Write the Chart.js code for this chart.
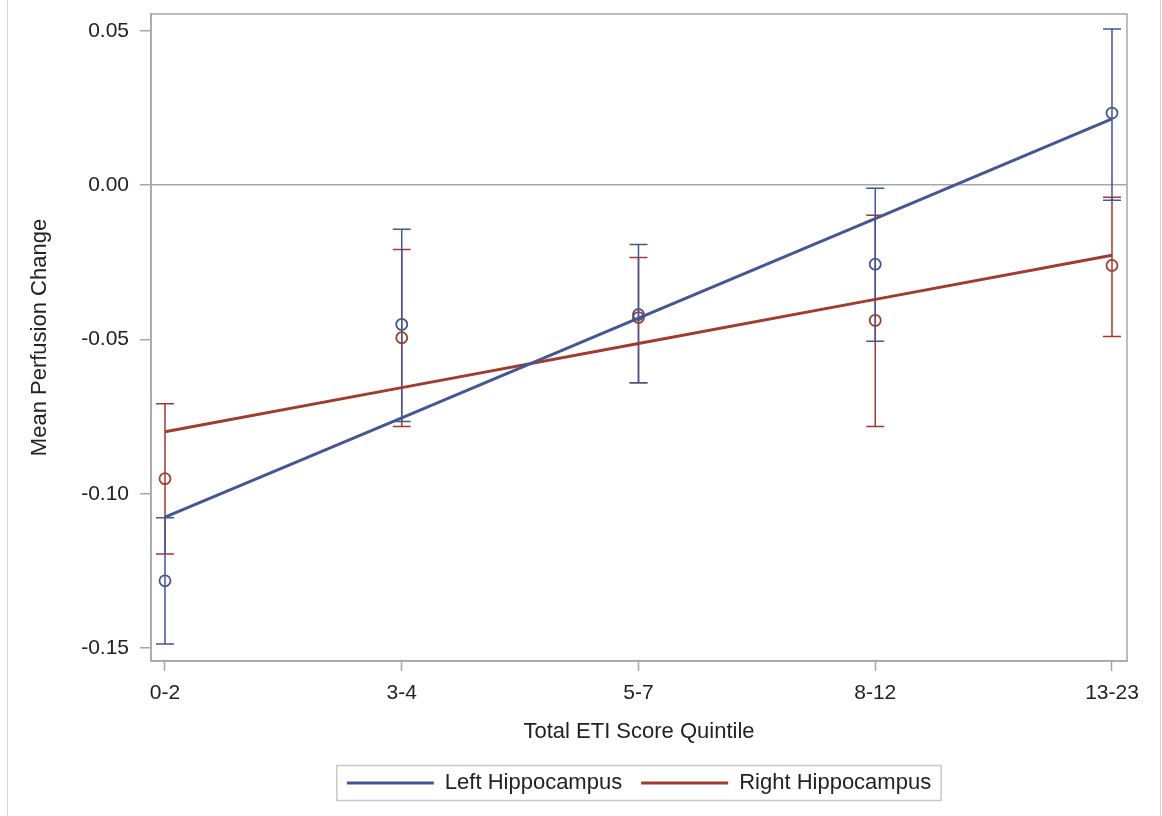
<!DOCTYPE html>
<html>
<head>
<meta charset="utf-8">
<script src="https://cdn.jsdelivr.net/npm/chart.js@4/dist/chart.umd.min.js"></script>
<style>
  html, body { margin: 0; padding: 0; background: #fff; }
  #wrap { width: 1162px; height: 816px; }
</style>
</head>
<body>
<div id="wrap"><canvas id="chart"></canvas></div>
<script>
// quintile groups and y ticks
const quintiles = ["0-2", "3-4", "5-7", "8-12", "13-23"];
const yTicks = [-0.15, -0.10, -0.05, 0.00, 0.05];

// Left hippocampus: means, CI and fitted line
const leftMean  = [-0.1282, -0.0451, -0.0419, -0.0256, 0.0234];
const leftLower = [-0.1487, -0.0766, -0.0640, -0.0506, -0.0049];
const leftUpper = [-0.1078, -0.0143, -0.0192, -0.0010, 0.0506];
const leftFit   = [-0.1076, -0.0754, -0.0431, -0.0108, 0.0215];

// Right hippocampus
const rightMean  = [-0.0951, -0.0494, -0.0429, -0.0438, -0.0260];
const rightLower = [-0.1195, -0.0782, -0.0640, -0.0782, -0.0490];
const rightUpper = [-0.0708, -0.0208, -0.0234, -0.0097, -0.0039];
const rightFit   = [-0.0799, -0.0656, -0.0513, -0.0370, -0.0227];

const BLUE = "#445694";
const RED = "#A23A2E";
const FRAME = "#a4a7ab";
const TEXT = "#222";

const toXY = arr => arr.map((v, i) => ({ x: i, y: v }));

// error bars with caps, drawn under the lines
const errorBars = {
    id: "errorBars",
    beforeDatasetsDraw(chart) {
        const { ctx, scales: { x, y } } = chart;
        const sets = [
            { lo: rightLower, hi: rightUpper, color: RED },
            { lo: leftLower, hi: leftUpper, color: BLUE }
        ];
        ctx.save();
        ctx.lineWidth = 1.5;
        sets.forEach(s => {
            ctx.strokeStyle = s.color;
            s.lo.forEach((lo, i) => {
                const px = x.getPixelForValue(i);
                const y1 = y.getPixelForValue(lo);
                const y2 = y.getPixelForValue(s.hi[i]);
                ctx.beginPath();
                ctx.moveTo(px, y1); ctx.lineTo(px, y2);
                ctx.moveTo(px - 9, y1); ctx.lineTo(px + 9, y1);
                ctx.moveTo(px - 9, y2); ctx.lineTo(px + 9, y2);
                ctx.stroke();
            });
        });
        ctx.restore();
    }
};

// legend centred under the plot area, not the whole canvas
const centreLegend = {
    id: "centreLegend",
    afterLayout(chart) {
        const lg = chart.legend, a = chart.chartArea;
        if (!lg) return;
        const shift = (a.left + a.right) / 2 - (lg.left + lg.right) / 2;
        lg.left += shift;
        lg.right += shift;
        (lg.legendHitBoxes || []).forEach(b => { b.left += shift; });
    }
};

// plot frame, page edges and legend box
const frame = {
    id: "frame",
    afterDraw(chart) {
        const { ctx, chartArea: a } = chart;
        ctx.save();
        ctx.strokeStyle = FRAME;
        ctx.lineWidth = 1.5;
        ctx.strokeRect(a.left, a.top, a.right - a.left, a.bottom - a.top);

        ctx.strokeStyle = "#d6d6d6";
        ctx.lineWidth = 1;
        ctx.beginPath();
        ctx.moveTo(7.5, 0); ctx.lineTo(7.5, 816);
        ctx.moveTo(1160.5, 0); ctx.lineTo(1160.5, 816);
        ctx.stroke();

        const boxes = chart.legend.legendHitBoxes;
        if (boxes && boxes.length) {
            const first = boxes[0], last = boxes[boxes.length - 1];
            const l = first.left - 10, r = last.left + last.width + 10;
            const cy = first.top + first.height / 2;
            ctx.strokeStyle = "#c8c8c8";
            ctx.lineWidth = 1.5;
            ctx.strokeRect(l, cy - 17.5, r - l, 35);
        }
        ctx.restore();
    }
};

new Chart(document.getElementById("chart"), {
    type: "line",
    data: {
        datasets: [
            {
                label: "Left Hippocampus",
                data: toXY(leftFit),
                borderColor: BLUE,
                backgroundColor: BLUE,
                borderWidth: 3,
                pointRadius: 0,
                pointStyle: "line"
            },
            {
                label: "Right Hippocampus",
                data: toXY(rightFit),
                borderColor: RED,
                backgroundColor: RED,
                borderWidth: 3,
                pointRadius: 0,
                pointStyle: "line"
            },
            {
                label: "Left mean",
                data: toXY(leftMean),
                showLine: false,
                borderColor: BLUE,
                backgroundColor: "transparent",
                pointRadius: 5.5,
                pointBorderWidth: 1.8
            },
            {
                label: "Right mean",
                data: toXY(rightMean),
                showLine: false,
                borderColor: RED,
                backgroundColor: "transparent",
                pointRadius: 5.5,
                pointBorderWidth: 1.8
            }
        ]
    },
    options: {
        responsive: true,
        maintainAspectRatio: false,
        animation: false,
        layout: { padding: { left: 20, right: 35, top: 14, bottom: 12 } },
        plugins: {
            tooltip: { enabled: false },
            legend: {
                position: "bottom",
                labels: {
                    filter: item => item.datasetIndex < 2,
                    usePointStyle: true,
                    pointStyleWidth: 87,
                    padding: 19,
                    color: TEXT,
                    font: { family: "'Liberation Sans', Arial", size: 22 }
                }
            }
        },
        scales: {
            x: {
                type: "linear",
                min: -0.0591,
                max: 4.0634,
                afterBuildTicks: s => { s.ticks = quintiles.map((q, i) => ({ value: i })); },
                afterFit: s => { s.height = 92; },
                ticks: {
                    callback: v => quintiles[v],
                    color: TEXT,
                    padding: 10,
                    maxRotation: 0,
                    font: { family: "'Liberation Sans', Arial", size: 21 }
                },
                grid: { drawOnChartArea: false, tickLength: 10, tickColor: FRAME, tickWidth: 1.5 },
                border: { color: FRAME, width: 1.5 },
                title: {
                    display: true,
                    text: "Total ETI Score Quintile",
                    color: TEXT,
                    padding: { top: 0, bottom: 8 },
                    font: { family: "'Liberation Sans', Arial", size: 22 }
                }
            },
            y: {
                min: -0.1542,
                max: 0.0555,
                afterBuildTicks: s => { s.ticks = yTicks.map(v => ({ value: v })); },
                afterFit: s => { s.width = 131; s.paddingTop = 0; s.paddingBottom = 0; },
                ticks: {
                    callback: v => v.toFixed(2),
                    color: TEXT,
                    padding: 11,
                    font: { family: "'Liberation Sans', Arial", size: 21 }
                },
                grid: {
                    color: c => (c.tick && Math.abs(c.tick.value) < 1e-9) ? FRAME : "transparent",
                    lineWidth: 1.5,
                    tickLength: 11,
                    tickColor: FRAME,
                    tickWidth: 1.5
                },
                border: { color: FRAME, width: 1.5 },
                title: {
                    display: true,
                    text: "Mean Perfusion Change",
                    color: TEXT,
                    padding: { top: 7, bottom: 0 },
                    font: { family: "'Liberation Sans', Arial", size: 22 }
                }
            }
        }
    },
    plugins: [errorBars, centreLegend, frame]
});
</script>
</body>
</html>
